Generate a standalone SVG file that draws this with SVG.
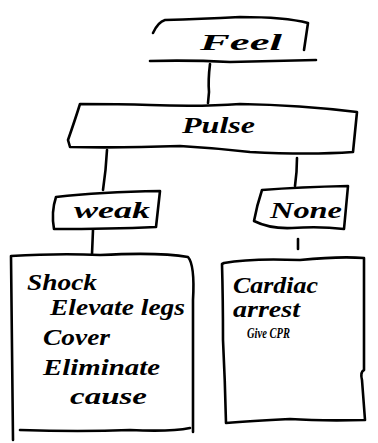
<svg xmlns="http://www.w3.org/2000/svg" width="378" height="443" viewBox="0 0 378 443">
<style>
.b{fill:none;stroke:#000;stroke-width:2.6;stroke-linecap:round;stroke-linejoin:round}
.t{font-family:"Liberation Serif",serif;font-style:italic;font-weight:bold;fill:#000}
.l{font-size:23px}
.s{font-size:14px}
</style>
<rect width="378" height="443" fill="#fff"/>
<g id="connectors">
<path class="b" d="M210 64 Q208 80 209 92 L208 103"/>
<path class="b" d="M107 150 Q106 170 103 190"/>
<path class="b" d="M297 158 Q297 172 295 186"/>
<path class="b" d="M93 230 L92 254"/>
<path class="b" d="M298 239 L298 249"/>
</g>
<g id="feel">
<path class="b" d="M153 33 Q158 22 165 20 Q200 19 240 17 Q285 17 308 23 L304 50 M150 61 Q190 60 230 62 Q270 61 316 60"/>
<text class="t l" x="200" y="50" textLength="82" lengthAdjust="spacingAndGlyphs">Feel</text>
</g>
<g id="pulse">
<path class="b" d="M80 104 Q120 104 150 105 Q200 107 240 104 Q300 105 357 112 L353 152 Q310 155 250 152 Q215 148 180 146 Q120 148 70 147 L68 140 Q75 120 80 104 Z"/>
<text class="t l" x="182" y="133" textLength="73" lengthAdjust="spacingAndGlyphs">Pulse</text>
</g>
<g id="weak">
<path class="b" d="M56 197 Q100 192 160 191 L156 227 Q110 229 54 229 Q51 212 56 197 Z"/>
<text class="t l" x="74" y="218" textLength="76" lengthAdjust="spacingAndGlyphs">weak</text>
</g>
<g id="none">
<path class="b" d="M262 190 Q300 187 348 186 L344 229 Q320 226 292 228 Q270 229 254 221 Q257 205 262 190 Z"/>
<text class="t l" x="270" y="218" textLength="72" lengthAdjust="spacingAndGlyphs">None</text>
</g>
<g id="shock">
<path class="b" d="M11 256 Q60 253 100 255 Q160 252 188 257 Q195 265 193 300 L193 432 M20 430 Q80 432 130 430 Q170 432 190 428 M11 256 L13 440"/>
<text class="t l" x="27" y="290" textLength="70" lengthAdjust="spacingAndGlyphs">Shock</text>
<text class="t l" x="50" y="315" textLength="135" lengthAdjust="spacingAndGlyphs">Elevate legs</text>
<text class="t l" x="43" y="345" textLength="67" lengthAdjust="spacingAndGlyphs">Cover</text>
<text class="t l" x="43" y="375" textLength="117" lengthAdjust="spacingAndGlyphs">Eliminate</text>
<text class="t l" x="70" y="404" textLength="77" lengthAdjust="spacingAndGlyphs">cause</text>
</g>
<g id="cardiac">
<path class="b" d="M224 263 Q250 258 300 260 Q340 256 364 258 L364 370 Q360 372 362 380 L365 420 Q320 421 290 419 Q250 421 226 423 Q225 380 223 340 Q223 300 222 264 Z"/>
<text class="t l" x="233" y="293" textLength="85" lengthAdjust="spacingAndGlyphs">Cardiac</text>
<text class="t l" x="233" y="317" textLength="67" lengthAdjust="spacingAndGlyphs">arrest</text>
<text class="t s" x="247" y="338" textLength="43" lengthAdjust="spacingAndGlyphs">Give CPR</text>
</g>
</svg>
